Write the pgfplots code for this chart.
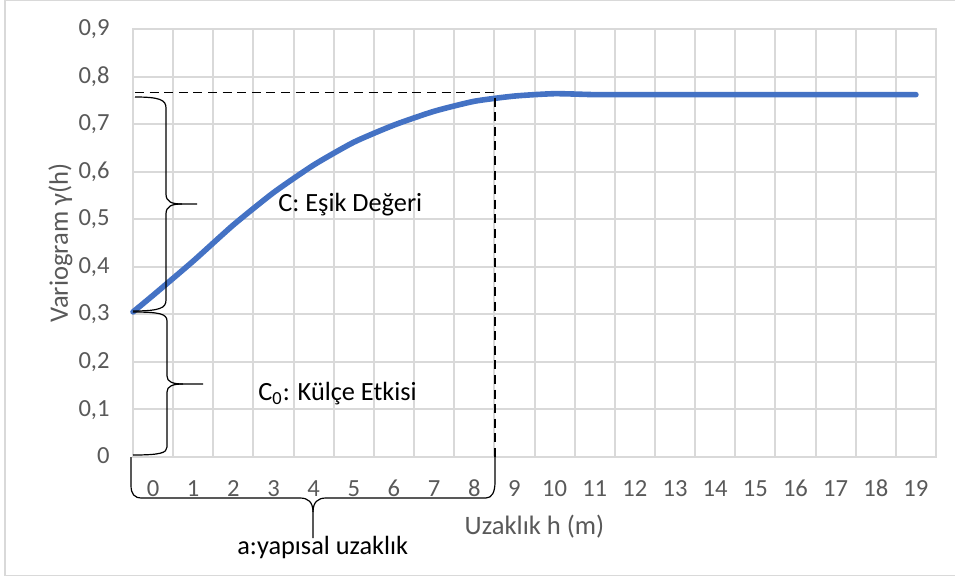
\documentclass[border=0pt]{standalone}
\usepackage{fontspec}
\setmainfont{Carlito}
\usepackage{pgfplots}
\pgfplotsset{compat=1.18}
\definecolor{lineblue}{RGB}{68,114,196}
\definecolor{gridgray}{RGB}{217,217,217}
\definecolor{ticktext}{RGB}{89,89,89}

\begin{document}
\begin{tikzpicture}
% 1 px of the 955x578 reference = 0.5pt; y measured downwards as negative
\useasboundingbox (0pt,0pt) rectangle (477.5pt,-289pt);
\draw[gridgray, line width=0.6pt] (2.5pt,-0.25pt) rectangle (490pt,-287.75pt);

\begin{axis}[
  at={(66.5pt,-228.5pt)}, anchor=south west,
  width=401.5pt, height=214pt, scale only axis,
  xmin=-0.5, xmax=19.5, ymin=0, ymax=0.9,
  xtick={0,...,19},
  minor xtick={-0.5,0.5,...,19.5},
  ytick={0,0.1,0.2,0.3,0.4,0.5,0.6,0.7,0.8,0.9},
  major tick length=0pt, minor tick length=0pt,
  xminorgrids=true, ymajorgrids=true,
  grid style={gridgray, line width=1pt},
  minor grid style={gridgray, line width=1pt},
  axis line style={gridgray, line width=1pt},
  /pgf/number format/assume math mode=true,
  tick label style={font=\fontsize{12.3}{14}\selectfont, text=ticktext, inner sep=0pt},
  xticklabel style={anchor=base, yshift=-19.75pt},
  yticklabel style={anchor=base east, xshift=-11.5pt, yshift=-3.3pt,
    /pgf/number format/.cd, fixed, precision=1, use comma},
  xlabel={Uzaklık h (m)},
  xlabel style={at={(axis description cs:0.5,-0.1822)}, anchor=base,
    font=\fontsize{13.3}{15}\selectfont, text=ticktext},
  ylabel={Variogram γ(h)},
  ylabel style={at={(axis description cs:-0.081,0.5)}, anchor=base,
    font=\fontsize{13.3}{15}\selectfont, text=ticktext},
  clip=false,
]
\addplot[lineblue, line width=2.8pt, smooth, tension=0.35, line cap=round, line join=round] coordinates {
  (-0.5,0.305) (0,0.340) (1,0.412) (2,0.488) (3,0.556) (4,0.614) (5,0.662)
  (6,0.698) (7,0.727) (8,0.748) (9,0.759) (10,0.764) (11,0.762) (12,0.762)
  (13,0.762) (14,0.762) (15,0.762) (16,0.762) (17,0.762) (18,0.762) (19,0.762)
};
% sill and range guides
\draw[black, line width=0.7pt, dash pattern=on 4.5pt off 2.8pt]
  (axis cs:-0.45,0.7665) -- (axis cs:8.516,0.7665) -- (axis cs:8.516,0);
\end{axis}

\begin{scope}[x=0.5pt, y=0.5pt]
% braces
\begin{scope}[line width=0.6pt]
\draw (135,-97) .. controls (160,-97) and (166,-100) .. (166,-108) -- (166,-194)
  .. controls (166,-202) and (172,-204) .. (182,-204) -- (197,-204);
\draw (182,-204) .. controls (172,-204) and (166,-206) .. (166,-214) -- (166,-300)
  .. controls (166,-308) and (160,-311) .. (133,-311);

\draw (133,-312) .. controls (160,-312) and (167,-314) .. (167,-321) -- (167,-376)
  .. controls (167,-382) and (173,-384) .. (183,-384) -- (203,-384);
\draw (183,-384) .. controls (173,-384) and (167,-386) .. (167,-392) -- (167,-447)
  .. controls (167,-453) and (160,-455) .. (133,-455);

\draw (131,-457) -- (131,-485) .. controls (131,-494) and (134,-498) .. (142,-498)
  -- (300,-498) .. controls (308,-498) and (313,-502) .. (313,-512) -- (313,-538);
\draw (313,-512) .. controls (313,-502) and (318,-498) .. (326,-498) -- (486,-498)
  .. controls (492,-498) and (495,-492) .. (495,-482) -- (495,-457);
\end{scope}

\begin{scope}[every node/.style={anchor=base west, inner sep=0pt, font=\fontsize{13.15}{16}\selectfont}]
\node at (278,-211) {C: Eşik Değeri};
\node at (258,-400.7) {C\textsubscript{0}: Külçe Etkisi};
\node at (237,-554) {a:yapısal uzaklık};
\end{scope}
\end{scope}
\end{tikzpicture}
\end{document}
